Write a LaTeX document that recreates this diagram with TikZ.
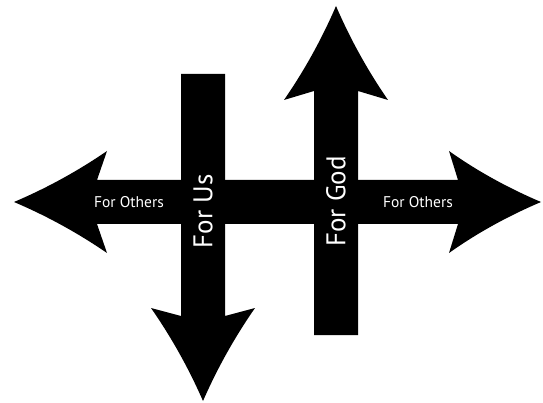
\documentclass[tikz,border=0pt]{standalone}
\usepackage{fontspec}
\setmainfont{PT Sans}
\begin{document}
\begin{tikzpicture}[x=1pt,y=-1pt,
  shaft/.style={fill=black},
  small/.style={text=white,font=\fontsize{15.5}{17}\selectfont,inner sep=0pt},
  big/.style={text=white,font=\fontsize{27}{30}\selectfont,inner sep=0pt,rotate=90}]
\useasboundingbox (0,0) rectangle (543,403);
% horizontal double arrow
\fill[shaft] (97,180) -- (107,151) .. controls (77.7,171.1) and (46.7,188.1) .. (14,202)
  .. controls (46.7,215.9) and (77.7,232.9) .. (107,253) -- (97,224) -- (458,224)
  -- (449,253) .. controls (477.3,232.9) and (508.3,215.9) .. (541,202)
  .. controls (508.3,188.1) and (477.3,171.1) .. (449,151) -- (458,180) -- cycle;
% down arrow (For Us)
\fill[shaft] (181,74) -- (225,74) -- (225,316) -- (255,308)
  .. controls (234.6,337.3) and (217.3,368.3) .. (203,401)
  .. controls (188.7,368.3) and (171.4,337.3) .. (151,308) -- (181,316) -- cycle;
% up arrow (For God)
\fill[shaft] (314,335) -- (314,91) -- (284,100)
  .. controls (304.4,70.4) and (321.8,39) .. (336,6)
  .. controls (350.2,39) and (367.6,70.4) .. (388,100) -- (358,91) -- (358,335) -- cycle;
% labels
\node[small] (othersL) at (129,202) {For Others};
\node[small] (othersR) at (418,202) {For Others};
\node[big] (us) at (203,211.5) {For Us};
\node[big] (god) at (336,201.5) {For God};
\end{tikzpicture}
\end{document}
